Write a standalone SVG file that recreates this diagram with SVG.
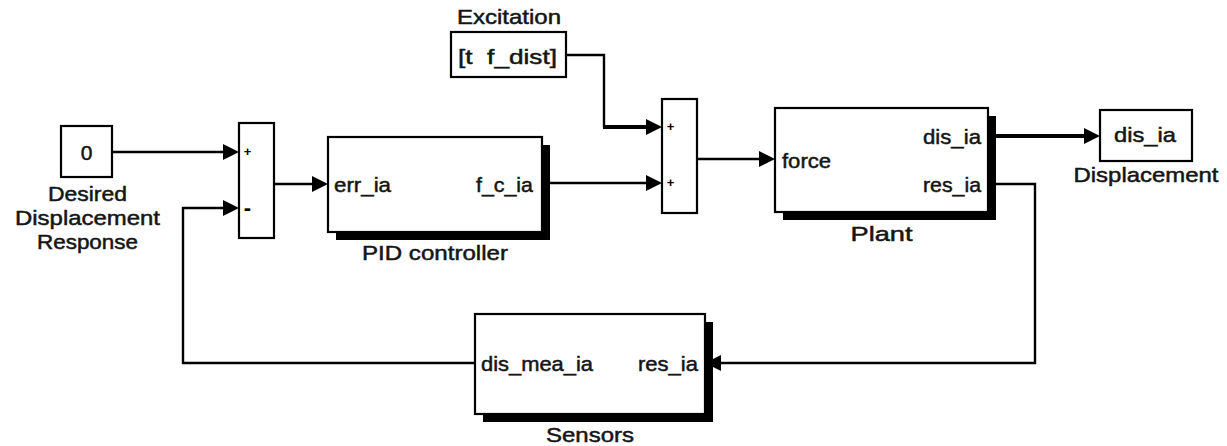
<svg xmlns="http://www.w3.org/2000/svg" width="1227" height="446" viewBox="0 0 1227 446">
<defs>
<style>
.blk{fill:#fff;stroke:#000;stroke-width:2.2}
.sh{fill:#000;stroke:none}
.w{fill:none;stroke:#000;stroke-width:2.4}
.wt{fill:none;stroke:#000;stroke-width:4}
.t{font-family:"Liberation Sans",Arial,sans-serif;font-weight:normal;fill:#151515;stroke:#151515;stroke-width:0.5}
.nm{font-size:21px;text-anchor:middle}
.pl{font-size:21px}
.pr{font-size:21px;text-anchor:end}
.sg{font-family:"Liberation Sans",Arial,sans-serif;font-weight:bold;fill:#000;text-anchor:middle}
</style>
<marker id="ah" markerUnits="userSpaceOnUse" markerWidth="17" markerHeight="17" refX="12" refY="8" orient="auto">
<path d="M0,0 L16,8 L0,16 Z" fill="#000"/>
</marker>
</defs>
<rect width="1227" height="446" fill="#fff"/>

<g id="connectors">
<path class="w" d="M112,152 H235" marker-end="url(#ah)"/>
<path class="w" d="M274,184 H324" marker-end="url(#ah)"/>
<path class="w" d="M542,183 H658" marker-end="url(#ah)"/>
<path class="w" d="M566,55 H604 V127"/>
<path class="wt" d="M603,127 H658" marker-end="url(#ah)"/>
<path class="w" d="M697,159 H771" marker-end="url(#ah)"/>
<path class="wt" d="M988,136 H1096" marker-end="url(#ah)"/>
<path class="w" d="M988,184 H1035 V363 H709" marker-end="url(#ah)"/>
<path class="w" d="M475,363 H183 V208 H235" marker-end="url(#ah)"/>
</g>

<g id="const0">
<rect class="blk" x="61" y="126" width="51" height="51"/>
<text class="t nm" x="86.5" y="159.5">0</text>
<text class="t nm" x="87.5" y="201" textLength="79" lengthAdjust="spacingAndGlyphs">Desired</text>
<text class="t nm" x="87.5" y="225" textLength="145" lengthAdjust="spacingAndGlyphs">Displacement</text>
<text class="t nm" x="87.5" y="249" textLength="101" lengthAdjust="spacingAndGlyphs">Response</text>
</g>

<g id="sum1">
<rect class="blk" x="239" y="123" width="35" height="115"/>
<text class="sg" x="247.5" y="156" font-size="13">+</text>
<text class="sg" x="247.5" y="215" font-size="22">-</text>
</g>

<g id="pid">
<rect class="sh" x="336" y="145" width="214" height="95"/>
<rect class="blk" x="328" y="137" width="214" height="95"/>
<text class="t pl" x="334" y="192" textLength="57" lengthAdjust="spacingAndGlyphs">err_ia</text>
<text class="t pr" x="533" y="192" textLength="57" lengthAdjust="spacingAndGlyphs">f_c_ia</text>
<text class="t nm" x="435" y="260" textLength="146" lengthAdjust="spacingAndGlyphs">PID controller</text>
</g>

<g id="excitation">
<rect class="blk" x="451" y="32" width="115" height="45"/>
<text class="t nm" x="509" y="24" textLength="104" lengthAdjust="spacingAndGlyphs">Excitation</text>
<text class="t nm" x="507.5" y="64" style="white-space:pre" textLength="99" lengthAdjust="spacingAndGlyphs">[t  f_dist]</text>
</g>

<g id="sum2">
<rect class="blk" x="662" y="99" width="35" height="114"/>
<text class="sg" x="670.5" y="131" font-size="13">+</text>
<text class="sg" x="670.5" y="187" font-size="13">+</text>
</g>

<g id="plant">
<rect class="sh" x="783" y="116" width="213" height="104"/>
<rect class="blk" x="775" y="108" width="213" height="104"/>
<text class="t pl" x="782" y="168" textLength="49" lengthAdjust="spacingAndGlyphs">force</text>
<text class="t pr" x="981" y="144" textLength="58" lengthAdjust="spacingAndGlyphs">dis_ia</text>
<text class="t pr" x="981" y="192" textLength="58" lengthAdjust="spacingAndGlyphs">res_ia</text>
<text class="t nm" x="881.5" y="241" textLength="62" lengthAdjust="spacingAndGlyphs">Plant</text>
</g>

<g id="displacement">
<rect class="blk" x="1100" y="110" width="92" height="51"/>
<text class="t nm" x="1145" y="142" textLength="62" lengthAdjust="spacingAndGlyphs">dis_ia</text>
<text class="t nm" x="1146" y="182" textLength="145" lengthAdjust="spacingAndGlyphs">Displacement</text>
</g>

<g id="sensors">
<rect class="sh" x="483" y="322" width="230" height="100"/>
<rect class="blk" x="475" y="314" width="230" height="100"/>
<text class="t pl" x="481" y="371" textLength="112" lengthAdjust="spacingAndGlyphs">dis_mea_ia</text>
<text class="t pr" x="698" y="371" textLength="60" lengthAdjust="spacingAndGlyphs">res_ia</text>
<text class="t nm" x="590" y="442" textLength="88" lengthAdjust="spacingAndGlyphs">Sensors</text>
</g>
</svg>
